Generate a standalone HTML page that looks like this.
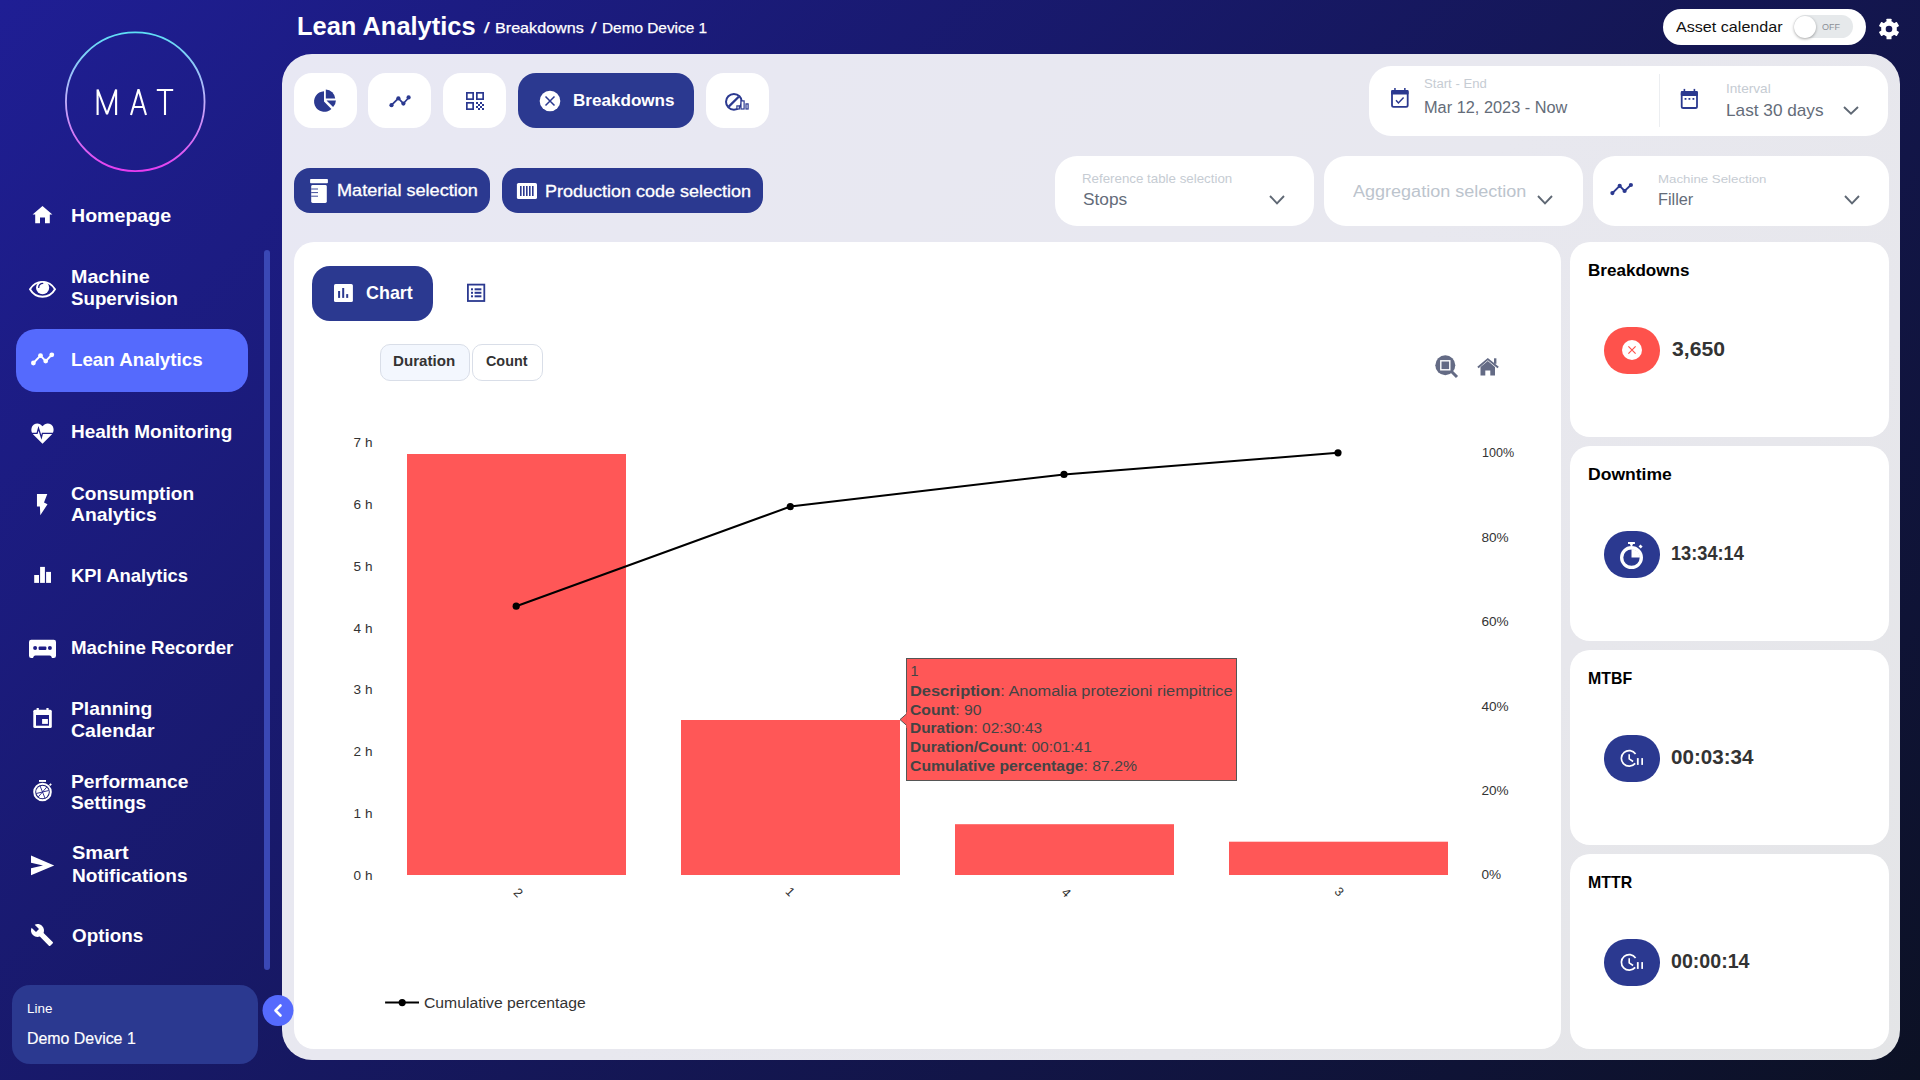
<!DOCTYPE html>
<html><head><meta charset="utf-8"><title>Lean Analytics - Breakdowns</title>
<style>
html,body{margin:0;padding:0;}
body{width:1920px;height:1080px;overflow:hidden;position:relative;font-family:"Liberation Sans",sans-serif;
background:linear-gradient(135deg,#1f1e94 0%,#0c1124 100%);}
.t{position:absolute;white-space:nowrap;}
svg{overflow:visible;}
</style></head><body>
<svg style="position:absolute;left:60.00px;top:27.00px;" width="150" height="150" viewBox="0 0 150 150"><defs><linearGradient id="lg" x1="0" y1="0" x2="0" y2="1">
<stop offset="0" stop-color="#5ee0f6"/><stop offset="0.5" stop-color="#c2b0fa"/><stop offset="1" stop-color="#e63cf0"/></linearGradient></defs>
<circle cx="75.25" cy="74.75" r="69.3" fill="none" stroke="url(#lg)" stroke-width="1.8"/></svg>
<svg style="position:absolute;left:90.00px;top:84.00px;" width="90" height="36" viewBox="0 0 90 36"><g fill="none" stroke="#fff" stroke-width="2.1" stroke-linejoin="bevel"><path d="M7.6 31 L7.6 5.6 L17 30.2 L26.1 5.6 L26.1 31"/><path d="M41 31 L48.5 5.4 L56 31 M43.6 23 L53.4 23"/><path d="M66.8 6 L83.2 6 M75 6 L75 31"/></g></svg>
<div style="position:absolute;left:16.00px;top:329.00px;width:232.00px;height:63.00px;background:#556afd;border-radius:20.0px;"></div>
<div class="t" style="left:71.48px;top:206.92px;font-size:18.17px;line-height:18.17px;font-weight:700;color:#ffffff;transform:scaleX(1.0784);transform-origin:0 0;">Homepage</div>
<div class="t" style="left:71.32px;top:268.12px;font-size:18.17px;line-height:18.17px;font-weight:700;color:#ffffff;transform:scaleX(1.0846);transform-origin:0 0;">Machine</div>
<div class="t" style="left:71.32px;top:289.92px;font-size:18.17px;line-height:18.17px;font-weight:700;color:#ffffff;transform:scaleX(1.0298);transform-origin:0 0;">Supervision</div>
<div class="t" style="left:71.32px;top:351.12px;font-size:18.17px;line-height:18.17px;font-weight:700;color:#ffffff;transform:scaleX(1.0322);transform-origin:0 0;">Lean Analytics</div>
<div class="t" style="left:71.32px;top:423.12px;font-size:18.17px;line-height:18.17px;font-weight:700;color:#ffffff;transform:scaleX(1.0448);transform-origin:0 0;">Health Monitoring</div>
<div class="t" style="left:71.32px;top:484.52px;font-size:18.17px;line-height:18.17px;font-weight:700;color:#ffffff;transform:scaleX(1.0526);transform-origin:0 0;">Consumption</div>
<div class="t" style="left:71.32px;top:505.82px;font-size:18.17px;line-height:18.17px;font-weight:700;color:#ffffff;transform:scaleX(1.0622);transform-origin:0 0;">Analytics</div>
<div class="t" style="left:71.32px;top:567.12px;font-size:18.17px;line-height:18.17px;font-weight:700;color:#ffffff;transform:scaleX(1.0146);transform-origin:0 0;">KPI Analytics</div>
<div class="t" style="left:71.32px;top:639.22px;font-size:18.17px;line-height:18.17px;font-weight:700;color:#ffffff;transform:scaleX(1.0313);transform-origin:0 0;">Machine Recorder</div>
<div class="t" style="left:71.32px;top:700.12px;font-size:18.17px;line-height:18.17px;font-weight:700;color:#ffffff;transform:scaleX(1.0612);transform-origin:0 0;">Planning</div>
<div class="t" style="left:71.32px;top:722.22px;font-size:18.17px;line-height:18.17px;font-weight:700;color:#ffffff;transform:scaleX(1.0746);transform-origin:0 0;">Calendar</div>
<div class="t" style="left:71.32px;top:772.62px;font-size:18.17px;line-height:18.17px;font-weight:700;color:#ffffff;transform:scaleX(1.0582);transform-origin:0 0;">Performance</div>
<div class="t" style="left:71.32px;top:794.32px;font-size:18.17px;line-height:18.17px;font-weight:700;color:#ffffff;transform:scaleX(1.0489);transform-origin:0 0;">Settings</div>
<div class="t" style="left:71.68px;top:844.32px;font-size:18.17px;line-height:18.17px;font-weight:700;color:#ffffff;transform:scaleX(1.1003);transform-origin:0 0;">Smart</div>
<div class="t" style="left:71.68px;top:866.52px;font-size:18.17px;line-height:18.17px;font-weight:700;color:#ffffff;transform:scaleX(1.0506);transform-origin:0 0;">Notifications</div>
<div class="t" style="left:71.68px;top:927.42px;font-size:18.17px;line-height:18.17px;font-weight:700;color:#ffffff;transform:scaleX(1.0376);transform-origin:0 0;">Options</div>
<div style="position:absolute;left:264.00px;top:250.00px;width:6.00px;height:720.20px;background:#3a48b5;border-radius:3.0px;"></div>
<div style="position:absolute;left:12.00px;top:984.50px;width:246.00px;height:79.20px;background:#2b3990;border-radius:18.0px;"></div>
<div class="t" style="left:26.84px;top:1001.86px;font-size:13.52px;line-height:13.52px;color:#ffffff;transform:scaleX(0.9911);transform-origin:0 0;">Line</div>
<div class="t" style="left:26.84px;top:1030.85px;font-size:16.72px;line-height:16.72px;color:#ffffff;-webkit-text-stroke:0.20px #ffffff;transform:scaleX(0.9522);transform-origin:0 0;">Demo Device 1</div>
<svg style="position:absolute;left:30.00px;top:204.00px;" width="26" height="22" viewBox="0 0 26 22"><path d="M2.6 10.5 L12.5 2 L22.4 10.5 L19.8 10.5 L19.8 19.2 L15 19.2 L15 13.5 L10 13.5 L10 19.2 L5.2 19.2 L5.2 10.5 Z" fill="#fff"/></svg>
<svg style="position:absolute;left:28.00px;top:278.00px;" width="30" height="22" viewBox="0 0 30 22"><path d="M2 11.35 C5.5 5.3 10 3.9 14.5 3.9 C19 3.9 23.5 5.3 27 11.35 C23.5 17.4 19 18.8 14.5 18.8 C10 18.8 5.5 17.4 2 11.35 Z" fill="none" stroke="#fff" stroke-width="1.9"/><circle cx="14.6" cy="9.7" r="6.6" fill="#fff"/><path d="M10.7 9.4 A4 4 0 0 1 14.7 5.4" fill="none" stroke="#1e1d86" stroke-width="1.3" stroke-linecap="round"/></svg>
<svg style="position:absolute;left:28.00px;top:348.00px;" width="28" height="20" viewBox="0 0 28 20"><polyline points="5.4,15 12.5,7.6 17.7,13.1 23.8,6.8" fill="none" stroke="#fff" stroke-width="2"/><circle cx="5.4" cy="15" r="2.4" fill="#fff"/><circle cx="12.5" cy="7.6" r="2.4" fill="#fff"/><circle cx="17.7" cy="13.1" r="2.4" fill="#fff"/><circle cx="23.8" cy="6.8" r="2.4" fill="#fff"/></svg>
<svg style="position:absolute;left:29.00px;top:421.00px;" width="28" height="26" viewBox="0 0 28 26"><path d="M13.5 22.7 L4 13.2 C1.6 10.6 1.8 5.8 4.9 3.5 C7.9 1.4 11.3 2.4 13.5 5.2 C15.7 2.4 19.1 1.4 22.1 3.5 C25.2 5.8 25.4 10.6 23 13.2 Z" fill="#fff"/><polyline points="1.5,12.3 8.1,12.3 9.5,7.3 12.4,16.4 13.4,12.3 26,12.3" fill="none" stroke="#1e1d86" stroke-width="1.3" stroke-linejoin="miter"/></svg>
<svg style="position:absolute;left:34.00px;top:492.00px;" width="16" height="26" viewBox="0 0 16 26"><path d="M2.96 2.1 L13.3 2.1 L10 10.6 L13.5 12.3 L6.3 23.2 L5.9 14.5 L2.96 14.5 Z" fill="#fff"/></svg>
<svg style="position:absolute;left:32.00px;top:564.00px;" width="22" height="22" viewBox="0 0 22 22"><rect x="2.2" y="11" width="4.8" height="7.9" fill="#fff"/><rect x="8.1" y="2.9" width="4.8" height="16" fill="#fff"/><rect x="14.1" y="7.9" width="4.9" height="11" fill="#fff"/></svg>
<svg style="position:absolute;left:28.00px;top:638.00px;" width="30" height="22" viewBox="0 0 30 22"><path d="M1 4 Q1 1.8 3.2 1.8 L25.8 1.8 Q28 1.8 28 4 L28 17.8 Q28 20 25.8 20 L24 20 Q23.3 17.6 21.6 17.6 L7.4 17.6 Q5.7 17.6 5 20 L3.2 20 Q1 20 1 17.8 Z" fill="#fff"/><circle cx="7.1" cy="10.1" r="2" fill="#1e1d86"/><rect x="10.6" y="8.5" width="7.8" height="3.5" rx="1" fill="#1e1d86"/><circle cx="21.9" cy="10.1" r="2" fill="#1e1d86"/></svg>
<svg style="position:absolute;left:31.00px;top:706.00px;" width="24" height="24" viewBox="0 0 24 24"><rect x="2.3" y="3.8" width="18.5" height="18.2" rx="1.5" fill="#fff"/><rect x="5" y="9" width="13" height="10.7" fill="#1e1d86"/><rect x="11.1" y="13" width="5.8" height="4.9" fill="#fff"/><rect x="5.6" y="2" width="2.2" height="3" fill="#fff"/><rect x="15.4" y="2" width="2.2" height="3" fill="#fff"/></svg>
<svg style="position:absolute;left:31.00px;top:778.00px;" width="24" height="26" viewBox="0 0 24 26"><rect x="8" y="2" width="7" height="1.9" fill="#fff"/><circle cx="11.5" cy="14" r="8.3" fill="none" stroke="#fff" stroke-width="2"/><circle cx="11.5" cy="14" r="6.3" fill="#fff"/><g stroke="#1e1d86" stroke-width="0.9"><line x1="11.5" y1="14" x2="17.8" y2="12.5"/><line x1="11.5" y1="14" x2="5.2" y2="15.5"/><line x1="11.5" y1="14" x2="9" y2="7.8"/><line x1="11.5" y1="14" x2="14" y2="20.2"/><line x1="11.5" y1="14" x2="15.8" y2="9"/><line x1="11.5" y1="14" x2="7.2" y2="19"/></g><path d="M18 6.8 L19.6 5.2 L20.8 6.4 L19.2 8 Z" fill="#fff"/></svg>
<svg style="position:absolute;left:29.00px;top:853.00px;" width="28" height="26" viewBox="0 0 28 26"><path d="M2 2.6 L25.2 12.4 L2 22.2 L2 15.2 L14 12.4 L2 9.8 Z" fill="#fff"/></svg>
<svg style="position:absolute;left:30.10px;top:922.60px;" width="24" height="24" viewBox="0 0 24 24"><path d="M22.7 19l-9.1-9.1c.9-2.3.4-5-1.5-6.9-2-2-5-2.4-7.4-1.3L9 6 6 9 1.6 4.7C.4 7.1.9 10.1 2.9 12.1c1.9 1.9 4.6 2.4 6.9 1.5l9.1 9.1c.4.4 1 .4 1.4 0l2.3-2.3c.5-.4.5-1.1.1-1.4z" fill="#fff"/></svg>
<div class="t" style="left:296.66px;top:13.18px;font-size:26.02px;line-height:26.02px;font-weight:700;color:#ffffff;transform:scaleX(0.9776);transform-origin:0 0;">Lean Analytics</div>
<div class="t" style="left:483.90px;top:20.20px;font-size:15.12px;line-height:15.12px;color:#ffffff;-webkit-text-stroke:0.25px #ffffff;transform:scaleX(1.3333);transform-origin:0 0;">/</div>
<div class="t" style="left:494.50px;top:20.20px;font-size:15.12px;line-height:15.12px;color:#ffffff;-webkit-text-stroke:0.25px #ffffff;transform:scaleX(1.0681);transform-origin:0 0;">Breakdowns</div>
<div class="t" style="left:591.40px;top:20.20px;font-size:15.12px;line-height:15.12px;color:#ffffff;-webkit-text-stroke:0.25px #ffffff;transform:scaleX(1.3333);transform-origin:0 0;">/</div>
<div class="t" style="left:602.16px;top:20.20px;font-size:15.12px;line-height:15.12px;color:#ffffff;-webkit-text-stroke:0.25px #ffffff;transform:scaleX(1.0171);transform-origin:0 0;">Demo Device 1</div>
<div style="position:absolute;left:1663.00px;top:9.00px;width:203.00px;height:35.70px;background:#fff;border-radius:18.0px;"></div>
<div class="t" style="left:1676.16px;top:18.70px;font-size:15.12px;line-height:15.12px;color:#111;transform:scaleX(1.0666);transform-origin:0 0;">Asset calendar</div>
<div style="position:absolute;left:1793.50px;top:15.40px;width:59.20px;height:22.80px;background:#e6e9eb;border-radius:12.0px;"></div>
<div class="t" style="left:1822.22px;top:21.63px;font-size:9.88px;line-height:9.88px;color:#8b9097;transform:scaleX(0.9125);transform-origin:0 0;">OFF</div>
<div style="position:absolute;left:1793.90px;top:15.80px;width:21.80px;height:22.00px;background:#fff;border-radius:50%;box-shadow:0 1px 3px rgba(0,0,0,0.35);"></div>
<svg style="position:absolute;left:1876.90px;top:17.00px;" width="24" height="24" viewBox="0 0 24 24"><g transform="translate(12 12)"><g fill="#fff"><rect x="-2.5" y="-10.3" width="5" height="5" rx="0.6" transform="rotate(0)"/><rect x="-2.5" y="-10.3" width="5" height="5" rx="0.6" transform="rotate(60)"/><rect x="-2.5" y="-10.3" width="5" height="5" rx="0.6" transform="rotate(120)"/><rect x="-2.5" y="-10.3" width="5" height="5" rx="0.6" transform="rotate(180)"/><rect x="-2.5" y="-10.3" width="5" height="5" rx="0.6" transform="rotate(240)"/><rect x="-2.5" y="-10.3" width="5" height="5" rx="0.6" transform="rotate(300)"/><circle r="7.9"/></g><circle r="3.3" fill="#151654"/></g></svg>
<div style="position:absolute;left:282.00px;top:54.00px;width:1618.00px;height:1006.00px;background:linear-gradient(135deg,#e8e8f4 0%,#e8e8ef 50%,#e7e7ec 72%,#e4e5e7 100%);border-radius:30.0px;"></div>
<div style="position:absolute;left:294.00px;top:73.00px;width:63.00px;height:55.00px;background:#fff;border-radius:18.0px;"></div>
<div style="position:absolute;left:368.00px;top:73.00px;width:63.00px;height:55.00px;background:#fff;border-radius:18.0px;"></div>
<div style="position:absolute;left:443.00px;top:73.00px;width:63.00px;height:55.00px;background:#fff;border-radius:18.0px;"></div>
<div style="position:absolute;left:706.00px;top:73.00px;width:63.00px;height:55.00px;background:#fff;border-radius:18.0px;"></div>
<div style="position:absolute;left:518.00px;top:73.00px;width:176.00px;height:55.00px;background:#2b3990;border-radius:18.0px;"></div>
<svg style="position:absolute;left:312.00px;top:88.00px;" width="27" height="26" viewBox="0 0 27 26"><path d="M12 3.2 A10.3 10.3 0 1 0 19.4 21 L12 13.6 Z" fill="#2b3990"/><path d="M13.8 1.6 A9.6 9.6 0 0 1 23.2 10.6 L13.8 10.6 Z" fill="#2b3990"/><path d="M14.5 12.4 L23.9 12.4 A9.6 9.6 0 0 1 21.1 19 Z" fill="#2b3990"/></svg>
<svg style="position:absolute;left:387.00px;top:93.00px;" width="27" height="18" viewBox="0 0 27 18"><polyline points="4.5,12.2 11.4,5.3 16.4,10.6 21.6,4.8" fill="none" stroke="#2b3990" stroke-width="1.7"/><circle cx="4.5" cy="12.2" r="2.1" fill="#2b3990"/><circle cx="11.4" cy="5.3" r="2.1" fill="#2b3990"/><circle cx="16.4" cy="10.6" r="2.1" fill="#2b3990"/><circle cx="21.6" cy="4.4" r="2.1" fill="#2b3990"/></svg>
<svg style="position:absolute;left:464.00px;top:91.00px;" width="22" height="22" viewBox="0 0 22 22"><g fill="none" stroke="#2b3990" stroke-width="1.7"><rect x="2.85" y="1.85" width="6.3" height="6.3"/><rect x="12.85" y="1.85" width="6.3" height="6.3"/><rect x="2.85" y="11.85" width="6.3" height="6.3"/></g><g fill="#2b3990"><rect x="12" y="11" width="2" height="2"/><rect x="16" y="11" width="2" height="2"/><rect x="14" y="13" width="2" height="2"/><rect x="18" y="13" width="2" height="2"/><rect x="12" y="15" width="2" height="2"/><rect x="16" y="15" width="2" height="2"/><rect x="14" y="17" width="2" height="2"/><rect x="18" y="17" width="2" height="2"/></g></svg>
<svg style="position:absolute;left:538.00px;top:89.00px;" width="24" height="24" viewBox="0 0 24 24"><circle cx="12" cy="12" r="10.3" fill="#fff"/><path d="M7.5 7.5 L16.5 16.5 M16.5 7.5 L7.5 16.5" stroke="#2b3990" stroke-width="1.5"/></svg>
<div class="t" style="left:572.84px;top:92.57px;font-size:15.99px;line-height:15.99px;font-weight:700;color:#ffffff;transform:scaleX(1.0681);transform-origin:0 0;">Breakdowns</div>
<svg style="position:absolute;left:723.00px;top:89.00px;" width="30" height="26" viewBox="0 0 30 26"><circle cx="10.9" cy="12.8" r="7.9" fill="none" stroke="#2b3990" stroke-width="2"/><line x1="5.7" y1="17.6" x2="15.7" y2="7.8" stroke="#2b3990" stroke-width="2.2"/><g fill="#fff" stroke="#2b3990" stroke-width="1.2"><rect x="13.9" y="16.9" width="2.4" height="3.1"/><rect x="18" y="11.9" width="3.1" height="8.1"/><rect x="23" y="14.9" width="2.1" height="5.1"/></g></svg>
<div style="position:absolute;left:1369.00px;top:66.00px;width:519.00px;height:70.00px;background:#fff;border-radius:22.0px;"></div>
<div style="position:absolute;left:1658.50px;top:74.00px;width:1.00px;height:53.00px;background:#eceef1;border-radius:0.0px;"></div>
<svg style="position:absolute;left:1389.00px;top:86.00px;" width="22" height="24" viewBox="0 0 22 24"><rect x="3.0" y="5.0" width="15.7" height="15.8" rx="1.6" fill="none" stroke="#2b3990" stroke-width="1.8"/><rect x="2.1" y="4.1" width="17.5" height="4.5" rx="1" fill="#2b3990"/><rect x="5.2" y="2.0" width="1.5" height="2.6" fill="#2b3990"/><rect x="15.1" y="2.0" width="1.5" height="2.6" fill="#2b3990"/><path d="M7.0 14.3 L9.4 17.0 L14.6 11.5" fill="none" stroke="#2b3990" stroke-width="1.5"/></svg>
<div class="t" style="left:1424.16px;top:77.76px;font-size:12.21px;line-height:12.21px;color:#c6ccd3;transform:scaleX(1.0765);transform-origin:0 0;">Start - End</div>
<div class="t" style="left:1424.32px;top:100.09px;font-size:15.84px;line-height:15.84px;color:#646c79;transform:scaleX(1.0317);transform-origin:0 0;">Mar 12, 2023 - Now</div>
<svg style="position:absolute;left:1679.00px;top:87.00px;" width="22" height="24" viewBox="0 0 22 24"><rect x="2.7" y="4.9" width="15.3" height="16.1" rx="1.6" fill="none" stroke="#2b3990" stroke-width="1.8"/><rect x="1.8" y="4.0" width="17.1" height="4.9" rx="1" fill="#2b3990"/><rect x="4.6" y="1.9" width="1.6" height="2.6" fill="#2b3990"/><rect x="14.6" y="1.9" width="1.6" height="2.6" fill="#2b3990"/><rect x="5.6" y="11" width="1.8" height="1.8" fill="#2b3990"/><rect x="9.5" y="11" width="1.8" height="1.8" fill="#2b3990"/><rect x="13.5" y="11" width="1.8" height="1.8" fill="#2b3990"/></svg>
<div class="t" style="left:1725.50px;top:83.81px;font-size:11.92px;line-height:11.92px;color:#c6ccd3;transform:scaleX(1.1452);transform-origin:0 0;">Interval</div>
<div class="t" style="left:1725.66px;top:102.77px;font-size:16.57px;line-height:16.57px;color:#646c79;transform:scaleX(1.0390);transform-origin:0 0;">Last 30 days</div>
<svg style="position:absolute;left:1842.00px;top:104.60px;" width="18" height="11.5" viewBox="0 0 18 11.5"><path d="M2 2 L9.00 8.80 L16.00 2" fill="none" stroke="#5f6874" stroke-width="1.9"/></svg>
<div style="position:absolute;left:294.00px;top:168.00px;width:196.00px;height:45.00px;background:#2b3990;border-radius:16.0px;"></div>
<svg style="position:absolute;left:308.00px;top:177.00px;" width="22" height="28" viewBox="0 0 22 28"><rect x="2.1" y="2" width="17.8" height="4.2" rx="0.8" fill="#fff"/><rect x="3.2" y="8.1" width="15.6" height="17.9" rx="1.4" fill="#fff"/><g stroke="#2b3990" stroke-width="0.9"><line x1="3.2" y1="12" x2="10" y2="12"/><line x1="3.2" y1="15.6" x2="10" y2="15.6"/><line x1="3.2" y1="19.2" x2="10" y2="19.2"/></g></svg>
<div class="t" style="left:336.50px;top:183.47px;font-size:15.99px;line-height:15.99px;color:#ffffff;-webkit-text-stroke:0.30px #ffffff;transform:scaleX(1.1332);transform-origin:0 0;">Material selection</div>
<div style="position:absolute;left:502.00px;top:168.00px;width:261.00px;height:45.00px;background:#2b3990;border-radius:16.0px;"></div>
<svg style="position:absolute;left:516.00px;top:182.00px;" width="22" height="18" viewBox="0 0 22 18"><rect x="0.9" y="1" width="20.1" height="16" rx="1.6" fill="#fff"/><g fill="#2b3990"><rect x="4" y="4" width="1.6" height="10"/><rect x="7" y="4" width="1.6" height="10"/><rect x="10" y="4" width="1.6" height="10"/><rect x="13" y="4" width="1.6" height="10"/><rect x="16" y="4" width="1.6" height="10"/></g></svg>
<div class="t" style="left:544.84px;top:183.67px;font-size:15.99px;line-height:15.99px;color:#ffffff;-webkit-text-stroke:0.30px #ffffff;transform:scaleX(1.1260);transform-origin:0 0;">Production code selection</div>
<div style="position:absolute;left:1055.00px;top:156.00px;width:259.00px;height:69.50px;background:#fff;border-radius:22.0px;"></div>
<div class="t" style="left:1082.32px;top:172.79px;font-size:12.06px;line-height:12.06px;color:#c6ccd3;transform:scaleX(1.1049);transform-origin:0 0;">Reference table selection</div>
<div class="t" style="left:1083.34px;top:191.00px;font-size:16.42px;line-height:16.42px;color:#646c79;transform:scaleX(1.0536);transform-origin:0 0;">Stops</div>
<svg style="position:absolute;left:1268.00px;top:194.40px;" width="18" height="12" viewBox="0 0 18 12"><path d="M2 2 L9.00 9.30 L16.00 2" fill="none" stroke="#5f6874" stroke-width="1.9"/></svg>
<div style="position:absolute;left:1323.50px;top:156.00px;width:259.00px;height:69.50px;background:#fff;border-radius:22.0px;"></div>
<div class="t" style="left:1352.72px;top:183.40px;font-size:16.42px;line-height:16.42px;color:#bcc4cd;transform:scaleX(1.0983);transform-origin:0 0;">Aggregation selection</div>
<svg style="position:absolute;left:1536.00px;top:194.30px;" width="18" height="12" viewBox="0 0 18 12"><path d="M2 2 L9.00 9.30 L16.00 2" fill="none" stroke="#5f6874" stroke-width="1.9"/></svg>
<div style="position:absolute;left:1592.50px;top:156.00px;width:296.00px;height:69.50px;background:#fff;border-radius:22.0px;"></div>
<svg style="position:absolute;left:1608.00px;top:181.00px;" width="27" height="16" viewBox="0 0 27 16"><polyline points="4.4,12.1 11.7,4.8 16.6,10 22.9,4" fill="none" stroke="#2b3990" stroke-width="1.9"/><circle cx="4.4" cy="12.1" r="2.1" fill="#2b3990"/><circle cx="11.7" cy="4.8" r="2.1" fill="#2b3990"/><circle cx="16.6" cy="10" r="2.1" fill="#2b3990"/><circle cx="22.9" cy="4" r="2.1" fill="#2b3990"/></svg>
<div class="t" style="left:1657.68px;top:174.28px;font-size:11.48px;line-height:11.48px;color:#c6ccd3;transform:scaleX(1.1574);transform-origin:0 0;">Machine Selection</div>
<div class="t" style="left:1658.00px;top:191.20px;font-size:16.42px;line-height:16.42px;color:#646c79;transform:scaleX(0.9931);transform-origin:0 0;">Filler</div>
<svg style="position:absolute;left:1843.00px;top:194.40px;" width="18" height="12" viewBox="0 0 18 12"><path d="M2 2 L9.00 9.30 L16.00 2" fill="none" stroke="#5f6874" stroke-width="1.9"/></svg>
<div style="position:absolute;left:294.00px;top:242.00px;width:1267.00px;height:807.00px;background:#fff;border-radius:20.0px;"></div>
<div style="position:absolute;left:312.00px;top:266.00px;width:121.00px;height:55.00px;background:#2b3990;border-radius:18.0px;"></div>
<svg style="position:absolute;left:333.00px;top:283.00px;" width="21" height="21" viewBox="0 0 21 21"><rect x="1" y="1" width="18.9" height="18" rx="1.6" fill="#fff"/><g fill="#2b3990"><rect x="5.1" y="8" width="2" height="6.9"/><rect x="9.2" y="5" width="2" height="9.9"/><rect x="13.2" y="11.1" width="2" height="3.8"/></g></svg>
<div class="t" style="left:366.34px;top:284.59px;font-size:17.73px;line-height:17.73px;font-weight:700;color:#ffffff;transform:scaleX(1.0112);transform-origin:0 0;">Chart</div>
<svg style="position:absolute;left:465.00px;top:282.00px;" width="22" height="22" viewBox="0 0 22 22"><rect x="2.9" y="2.6" width="16.4" height="16.4" fill="none" stroke="#2b3990" stroke-width="1.8"/><g fill="#2b3990"><rect x="6" y="6.3" width="2" height="2"/><rect x="9.6" y="6.3" width="6.8" height="2"/><rect x="6" y="9.8" width="2" height="2"/><rect x="9.6" y="9.8" width="6.8" height="2"/><rect x="6" y="13.3" width="2" height="2"/><rect x="9.6" y="13.3" width="6.8" height="2"/></g></svg>
<div style="position:absolute;left:380.20px;top:343.70px;width:89.40px;height:37.70px;background:#f3f7fe;border-radius:10.0px;box-sizing:border-box;border:1px solid #d9dee8;"></div>
<div style="position:absolute;left:471.50px;top:343.70px;width:71.20px;height:37.70px;background:#fff;border-radius:10.0px;box-sizing:border-box;border:1px solid #d9dee8;"></div>
<div class="t" style="left:393.16px;top:353.46px;font-size:15.41px;line-height:15.41px;font-weight:700;color:#333333;transform:scaleX(0.9815);transform-origin:0 0;">Duration</div>
<div class="t" style="left:485.72px;top:353.46px;font-size:15.41px;line-height:15.41px;font-weight:700;color:#333333;transform:scaleX(0.9322);transform-origin:0 0;">Count</div>
<svg style="position:absolute;left:1433.00px;top:353.00px;" width="28" height="28" viewBox="0 0 28 28"><circle cx="12.3" cy="12.3" r="10" fill="#646b85"/><rect x="7.8" y="7.8" width="9" height="9" fill="none" stroke="#fff" stroke-width="1.4"/><line x1="18.5" y1="18.5" x2="24" y2="24" stroke="#646b85" stroke-width="3"/></svg>
<svg style="position:absolute;left:1475.00px;top:356.00px;" width="26" height="22" viewBox="0 0 26 22"><path d="M2.3 10.8 L12.8 2 L23.8 10.8 L22.5 12.2 L12.8 4.3 L3.6 12.2 Z" fill="#646b85"/><path d="M5.5 11 L12.8 5.1 L20 11 L20 19.6 L15.3 19.6 L15.3 14.5 L10.3 14.5 L10.3 19.6 L5.5 19.6 Z" fill="#646b85"/><rect x="19" y="2.3" width="2.4" height="5.5" fill="#646b85"/></svg>
<div class="t" style="left:353.60px;top:868.99px;font-size:13.60px;line-height:13.60px;color:#333333;">0 h</div>
<div class="t" style="left:353.60px;top:807.13px;font-size:13.60px;line-height:13.60px;color:#333333;">1 h</div>
<div class="t" style="left:353.60px;top:745.27px;font-size:13.60px;line-height:13.60px;color:#333333;">2 h</div>
<div class="t" style="left:353.60px;top:683.41px;font-size:13.60px;line-height:13.60px;color:#333333;">3 h</div>
<div class="t" style="left:353.60px;top:621.55px;font-size:13.60px;line-height:13.60px;color:#333333;">4 h</div>
<div class="t" style="left:353.60px;top:559.69px;font-size:13.60px;line-height:13.60px;color:#333333;">5 h</div>
<div class="t" style="left:353.60px;top:497.83px;font-size:13.60px;line-height:13.60px;color:#333333;">6 h</div>
<div class="t" style="left:353.60px;top:435.97px;font-size:13.60px;line-height:13.60px;color:#333333;">7 h</div>
<div class="t" style="left:1481.50px;top:868.39px;font-size:13.60px;line-height:13.60px;color:#333333;">0%</div>
<div class="t" style="left:1481.50px;top:783.95px;font-size:13.60px;line-height:13.60px;color:#333333;">20%</div>
<div class="t" style="left:1481.50px;top:699.51px;font-size:13.60px;line-height:13.60px;color:#333333;">40%</div>
<div class="t" style="left:1481.50px;top:615.07px;font-size:13.60px;line-height:13.60px;color:#333333;">60%</div>
<div class="t" style="left:1481.50px;top:530.63px;font-size:13.60px;line-height:13.60px;color:#333333;">80%</div>
<div class="t" style="left:1481.50px;top:446.19px;font-size:13.60px;line-height:13.60px;color:#333333;transform:scaleX(0.9239);transform-origin:0 0;">100%</div>
<svg style="position:absolute;left:294.00px;top:242.00px;" width="1267" height="807" viewBox="0 0 1267 807"><rect x="113" y="212" width="219" height="421" fill="#ff5757"/><rect x="387" y="478" width="219" height="155" fill="#ff5757"/><rect x="661" y="582.2" width="219" height="50.8" fill="#ff5757"/><rect x="935" y="599.7" width="219" height="33.3" fill="#ff5757"/><polyline points="222.2,364.2 496.3,264.6 770,232.4 1044,210.8" fill="none" stroke="#000" stroke-width="2"/><circle cx="222.2" cy="364.2" r="3.6" fill="#000"/><circle cx="496.3" cy="264.6" r="3.6" fill="#000"/><circle cx="770" cy="232.4" r="3.6" fill="#000"/><circle cx="1044" cy="210.8" r="3.6" fill="#000"/><line x1="91.1" y1="760.6" x2="125" y2="760.6" stroke="#000" stroke-width="2"/><circle cx="108.2" cy="760.6" r="3.6" fill="#000"/></svg>
<div class="t" style="left:423.68px;top:996.79px;font-size:13.95px;line-height:13.95px;color:#333333;transform:scaleX(1.1281);transform-origin:0 0;">Cumulative percentage</div>
<div class="t" style="left:507.7px;top:886.0px;width:20px;height:14px;font-size:12.6px;line-height:14px;text-align:center;color:#333333;transform:rotate(45deg);">2</div>
<div class="t" style="left:780.4px;top:884.7px;width:20px;height:14px;font-size:12.6px;line-height:14px;text-align:center;color:#333333;transform:rotate(45deg);">1</div>
<div class="t" style="left:1056.0px;top:886.0px;width:20px;height:14px;font-size:12.6px;line-height:14px;text-align:center;color:#333333;transform:rotate(45deg);">4</div>
<div class="t" style="left:1329.0px;top:885.0px;width:20px;height:14px;font-size:12.6px;line-height:14px;text-align:center;color:#333333;transform:rotate(45deg);">3</div>
<div style="position:absolute;left:906.30px;top:658.20px;width:330.50px;height:122.40px;background:#ff5757;border-radius:0.0px;box-sizing:border-box;border:1px solid #555;"></div>
<svg style="position:absolute;left:899.00px;top:712.00px;" width="9" height="16" viewBox="0 0 9 16"><path d="M8.3 1.2 L1 7.6 L8.3 14 Z" fill="#ff5757" stroke="#555" stroke-width="1"/><rect x="7.4" y="0" width="2" height="16" fill="#ff5757"/></svg>
<div class="t" style="left:910.50px;top:664.02px;font-size:14.39px;line-height:14.39px;color:#444;">1</div>
<div class="t" style="left:910.00px;top:683.82px;font-size:14.39px;line-height:14.39px;color:#444;transform:scaleX(1.1407);transform-origin:0 0;"><b>Description</b>: Anomalia protezioni riempitrice</div>
<div class="t" style="left:910.00px;top:702.62px;font-size:14.39px;line-height:14.39px;color:#444;transform:scaleX(1.0913);transform-origin:0 0;"><b>Count</b>: 90</div>
<div class="t" style="left:910.00px;top:721.42px;font-size:14.39px;line-height:14.39px;color:#444;transform:scaleX(1.0740);transform-origin:0 0;"><b>Duration</b>: 02:30:43</div>
<div class="t" style="left:910.00px;top:740.22px;font-size:14.39px;line-height:14.39px;color:#444;transform:scaleX(1.0786);transform-origin:0 0;"><b>Duration/Count</b>: 00:01:41</div>
<div class="t" style="left:910.00px;top:759.02px;font-size:14.39px;line-height:14.39px;color:#444;transform:scaleX(1.0972);transform-origin:0 0;"><b>Cumulative percentage</b>: 87.2%</div>
<div style="position:absolute;left:1570.00px;top:242.00px;width:319.00px;height:194.50px;background:#fff;border-radius:20.0px;"></div>
<div class="t" style="left:1587.52px;top:262.51px;font-size:15.70px;line-height:15.70px;font-weight:700;color:#000;transform:scaleX(1.0880);transform-origin:0 0;">Breakdowns</div>
<div style="position:absolute;left:1604.00px;top:327.20px;width:56.00px;height:46.60px;background:#fe524c;border-radius:23.3px;"></div>
<div class="t" style="left:1671.70px;top:338.82px;font-size:20.06px;line-height:20.06px;font-weight:700;color:#333333;transform:scaleX(1.0550);transform-origin:0 0;">3,650</div>
<div style="position:absolute;left:1570.00px;top:446.00px;width:319.00px;height:194.50px;background:#fff;border-radius:20.0px;"></div>
<div class="t" style="left:1587.52px;top:466.51px;font-size:15.70px;line-height:15.70px;font-weight:700;color:#000;transform:scaleX(1.1188);transform-origin:0 0;">Downtime</div>
<div style="position:absolute;left:1604.00px;top:531.20px;width:56.00px;height:46.60px;background:#2b3990;border-radius:23.3px;"></div>
<div class="t" style="left:1671.00px;top:542.82px;font-size:20.06px;line-height:20.06px;font-weight:700;color:#333333;transform:scaleX(0.9079);transform-origin:0 0;">13:34:14</div>
<div style="position:absolute;left:1570.00px;top:650.00px;width:319.00px;height:194.50px;background:#fff;border-radius:20.0px;"></div>
<div class="t" style="left:1587.52px;top:670.51px;font-size:15.70px;line-height:15.70px;font-weight:700;color:#000;transform:scaleX(1.0126);transform-origin:0 0;">MTBF</div>
<div style="position:absolute;left:1604.00px;top:735.20px;width:56.00px;height:46.60px;background:#2b3990;border-radius:23.3px;"></div>
<div class="t" style="left:1671.00px;top:746.82px;font-size:20.06px;line-height:20.06px;font-weight:700;color:#333333;transform:scaleX(1.0274);transform-origin:0 0;">00:03:34</div>
<div style="position:absolute;left:1570.00px;top:854.00px;width:319.00px;height:194.50px;background:#fff;border-radius:20.0px;"></div>
<div class="t" style="left:1587.52px;top:874.51px;font-size:15.70px;line-height:15.70px;font-weight:700;color:#000;transform:scaleX(1.0126);transform-origin:0 0;">MTTR</div>
<div style="position:absolute;left:1604.00px;top:939.20px;width:56.00px;height:46.60px;background:#2b3990;border-radius:23.3px;"></div>
<div class="t" style="left:1671.00px;top:950.82px;font-size:20.06px;line-height:20.06px;font-weight:700;color:#333333;transform:scaleX(0.9778);transform-origin:0 0;">00:00:14</div>
<svg style="position:absolute;left:1620.00px;top:338.00px;" width="24" height="24" viewBox="0 0 24 24"><circle cx="12" cy="12" r="10" fill="#fff"/><path d="M8.4 8.4 L15.6 15.6 M15.6 8.4 L8.4 15.6" stroke="#fe524c" stroke-width="1.2"/></svg>
<svg style="position:absolute;left:1618.00px;top:530.00px;" width="28" height="42" viewBox="0 0 28 42"><path d="M10 12 L16.9 12 L16.9 14 L15 14 L14.2 16 L12.7 16 L11.9 14 L10 14 Z" fill="#fff"/><circle cx="13.5" cy="27.6" r="9.85" fill="none" stroke="#fff" stroke-width="3.3"/><path d="M13.5 27.6 L13.5 19 A8.6 8.6 0 0 1 22.1 27.6 Z" fill="#fff"/><path d="M20.6 16.6 L22.4 14.6 L24.6 16.6 L22.8 18.6 Z" fill="#fff"/></svg>
<svg style="position:absolute;left:1618.00px;top:746.00px;" width="28" height="26" viewBox="0 0 28 26"><path d="M17.59 7.93 A7.8 7.8 0 1 0 17.18 17.41" fill="none" stroke="#fff" stroke-width="1.7"/><path d="M11.2 8.3 L11.2 12.9 L15.1 15.5" fill="none" stroke="#fff" stroke-width="1.6"/><rect x="18.9" y="12.1" width="1.8" height="6.8" fill="#fff"/><rect x="23.3" y="12.1" width="1.7" height="6.8" fill="#fff"/></svg>
<svg style="position:absolute;left:1618.00px;top:950.00px;" width="28" height="26" viewBox="0 0 28 26"><path d="M17.59 7.93 A7.8 7.8 0 1 0 17.18 17.41" fill="none" stroke="#fff" stroke-width="1.7"/><path d="M11.2 8.3 L11.2 12.9 L15.1 15.5" fill="none" stroke="#fff" stroke-width="1.6"/><rect x="18.9" y="12.1" width="1.8" height="6.8" fill="#fff"/><rect x="23.3" y="12.1" width="1.7" height="6.8" fill="#fff"/></svg>
<svg style="position:absolute;left:262.00px;top:995.00px;" width="32" height="32" viewBox="0 0 32 32"><circle cx="16" cy="15.5" r="15.5" fill="#556afd"/><path d="M18.5 10.5 L13.5 15.5 L18.5 20.5" fill="none" stroke="#fff" stroke-width="2.6" stroke-linecap="round" stroke-linejoin="round"/></svg>
</body></html>
